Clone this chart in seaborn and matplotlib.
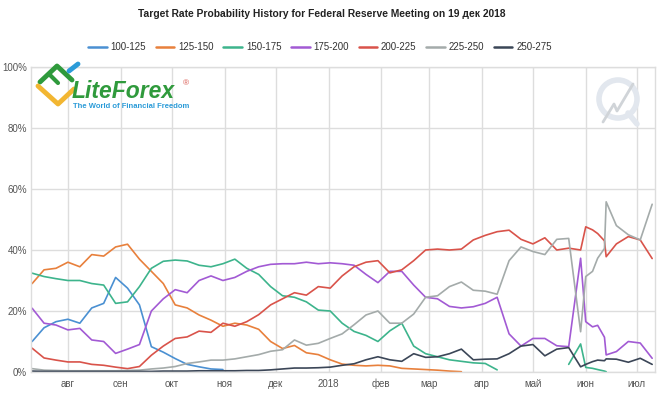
import numpy as np
import pandas as pd
import matplotlib
matplotlib.use("Agg")
import matplotlib.pyplot as plt
from matplotlib.lines import Line2D
from matplotlib.patches import Ellipse
import seaborn as sns

nan = np.nan

# observation dates (weekly, plus a few extra around the late-May / June swings)
dates = [
    "2017-07-11", "2017-07-18", "2017-07-25", "2017-08-01", "2017-08-08", "2017-08-15",
    "2017-08-22", "2017-08-29", "2017-09-05", "2017-09-12", "2017-09-19", "2017-09-26",
    "2017-10-03", "2017-10-10", "2017-10-17", "2017-10-24", "2017-10-31", "2017-11-07",
    "2017-11-14", "2017-11-21", "2017-11-28", "2017-12-05", "2017-12-12", "2017-12-19",
    "2017-12-26", "2018-01-02", "2018-01-09", "2018-01-16", "2018-01-23", "2018-01-30",
    "2018-02-06", "2018-02-13", "2018-02-20", "2018-02-27", "2018-03-06", "2018-03-13",
    "2018-03-20", "2018-03-27", "2018-04-03", "2018-04-10", "2018-04-17", "2018-04-24",
    "2018-05-01", "2018-05-08", "2018-05-15", "2018-05-22", "2018-05-29", "2018-06-01",
    "2018-06-05", "2018-06-08", "2018-06-12", "2018-06-13", "2018-06-19", "2018-06-26",
    "2018-07-03", "2018-07-10",
]

ranges = ["100-125", "125-150", "150-175", "175-200", "200-225", "225-250", "250-275"]
colors = ["#4a90d2", "#e8803c", "#3db48c", "#a25ad4", "#d9534a", "#a4abaa", "#3b4657"]

p_100_125 = [10, 14.5, 16.5, 17.3, 16, 21, 22.5, 31, 27.5, 22, 8.3, 6.5, 4.4, 2.5, 1.7, 1, 0.8] + [nan] * 39

p_125_150 = [29, 33.5, 34, 36, 34.5, 38.5, 38, 41, 41.9, 37, 33, 29, 22, 21, 18.7, 17, 15, 16,
             15.4, 14, 10, 7.7, 8.7, 6.3, 5.7, 4, 2.6, 2.2, 2, 2.2, 2, 1.2, 1, 0.8, 0.6, 0.3,
             0.1] + [nan] * 19

p_150_175 = [32.4, 31.3, 30.6, 30, 30, 29, 28.5, 22.5, 23, 28, 34, 36.3, 36.7, 36.4, 35, 34.5,
             35.5, 37, 34, 32, 28, 25, 24.5, 23, 20.3, 20, 16, 13.3, 12, 10, 13.5, 16, 8.5, 6,
             5, 4, 3.5, 3, 2.8, 0.7] + [nan] * 5 + [2.5, 9.2, 1.5, 1.2, 0.8, 0.3, 0.1] + [nan] * 4

p_175_200 = [20.9, 16, 15.4, 13.8, 14.3, 10.5, 10, 6.1, 7.5, 9, 20, 24, 27, 26, 30, 31.5, 30,
             31, 33, 34.5, 35.3, 35.5, 35.5, 36, 35.5, 35.8, 35.5, 35, 32, 29.3, 33, 33, 28.5,
             24.5, 24, 21.5, 21, 21.4, 22.5, 24.5, 12.5, 8.5, 11, 11, 8.6, 8.3, 37.3, 16.5,
             14.8, 15.3, 11.4, 5.6, 6.7, 10, 9.5, 4.5]

p_200_225 = [7.8, 4.6, 3.9, 3.3, 3.3, 2.5, 2.2, 1.6, 1.1, 1.8, 5.5, 8.5, 11, 11.5, 13.4, 13, 16,
             15, 16.5, 18.8, 22, 24, 26, 25.2, 28, 27.5, 31.5, 34.5, 36, 36.5, 32.5, 33.5, 36.5,
             40, 40.3, 40, 40.3, 43.3, 44.8, 46, 46.5, 43.5, 42, 44, 40, 40.6, 40, 47.6, 46.6,
             45.4, 43, 37.8, 42, 44.4, 43.3, 37.2]

p_225_250 = [1.1, 0.6, 0.5, 0.4, 0.4, 0.4, 0.4, 0.4, 0.5, 0.6, 1, 1.3, 1.8, 2.8, 3.3, 3.9, 3.9,
             4.3, 5, 5.7, 6.8, 7.3, 10.5, 8.8, 9.4, 11, 12.5, 15.5, 18.7, 20, 16, 16, 19, 24.5,
             25, 28, 29.5, 26.8, 26.5, 25.5, 36.5, 41, 39.5, 38.5, 43.5, 43.8, 13.2, 31.3, 33,
             37.3, 40.5, 55.8, 48, 45, 43.3, 55]

p_250_275 = [0.3, 0.2, 0.2, 0.2, 0.2, 0.2, 0.2, 0.2, 0.2, 0.2, 0.2, 0.3, 0.3, 0.3, 0.4, 0.4, 0.4,
             0.4, 0.5, 0.5, 0.7, 1, 1.3, 1.3, 1.4, 1.6, 2.2, 2.7, 4, 5, 4, 3.5, 6, 4.8, 5, 6,
             7.5, 4, 4.2, 4.3, 6, 8.5, 9, 5.3, 7.5, 8, 1.7, 2.5, 3.4, 3.9, 3.7, 4.3, 4.2, 3.2,
             4.5, 2.5]

month_ticks = ["2017-08-01", "2017-09-01", "2017-10-01", "2017-11-01", "2017-12-01", "2018-01-01",
               "2018-02-01", "2018-03-01", "2018-04-01", "2018-05-01", "2018-06-01", "2018-07-01"]
month_labels = ["авг", "сен", "окт", "ноя", "дек", "2018", "фев", "мар", "апр", "май", "июн", "июл"]

series = dict(zip(ranges, [p_100_125, p_125_150, p_150_175, p_175_200,
                           p_200_225, p_225_250, p_250_275]))

# long format, with a segment id so gaps in a series are not bridged
rows = []
for name, vals in series.items():
    seg = 0
    gap = True
    for d, v in zip(dates, vals):
        if np.isnan(v):
            gap = True
            continue
        if gap:
            seg += 1
        gap = False
        rows.append((pd.Timestamp(d), v, name, f"{name}-{seg}"))
df = pd.DataFrame(rows, columns=["date", "prob", "range", "seg"])

sns.set_theme(style="whitegrid")
plt.rcParams["font.family"] = ["Liberation Sans Narrow", "Liberation Sans", "DejaVu Sans"]

W, H = 670, 399
fig = plt.figure(figsize=(W / 100, H / 100), dpi=100)
ax = fig.add_axes([31 / W, 27 / H, 624 / W, 305 / H])

sns.lineplot(data=df, x="date", y="prob", hue="range", hue_order=ranges,
             palette=dict(zip(ranges, colors)), units="seg", estimator=None,
             linewidth=1.2, legend=False, ax=ax)

ax.set_xlim(pd.Timestamp("2017-07-10 08:00"), pd.Timestamp("2018-07-11 16:00"))
ax.set_ylim(0, 100)
ax.set_yticks(range(0, 101, 20))
ax.set_yticklabels([f"{v}%" for v in range(0, 101, 20)])
ax.set_xticks(pd.to_datetime(month_ticks))
ax.set_xticklabels(month_labels)
ax.set_xlabel("")
ax.set_ylabel("")
ax.tick_params(axis="both", labelsize=7, labelcolor="#555555", length=0)
ax.tick_params(axis="x", pad=5)
ax.tick_params(axis="y", pad=3)
ax.grid(True, color="#dddddd", linewidth=1)
for s in ax.spines.values():
    s.set_color("#dddddd")
    s.set_linewidth(1)

# title and legend
fig.text(322 / W, 1 - 14 / H, "Target Rate Probability History for Federal Reserve Meeting on 19 дек 2018",
         ha="center", va="center", fontsize=7.4, fontweight="bold", color="#222222")
handles = [Line2D([0], [0], color=c, lw=1.8) for c in colors]
fig.legend(handles, ranges, loc="center", bbox_to_anchor=(320 / W, 1 - 47 / H), ncol=7,
           frameon=False, fontsize=7, handlelength=1.9, handletextpad=0.4,
           columnspacing=1.0, labelcolor="#333333")


def px(x, y):
    return x / W, 1 - y / H


# LiteForex logo (drawn roughly)
def logo_line(pts, color, lw=3.5):
    xs, ys = zip(*[px(*p) for p in pts])
    fig.add_artist(Line2D(xs, ys, color=color, lw=lw, solid_capstyle="round",
                          transform=fig.transFigure))


logo_line([(40, 82), (57, 66), (72, 80)], "#2f9a3c")
logo_line([(50, 75), (58, 83)], "#2f9a3c", lw=3)
logo_line([(38, 86), (58, 104), (74, 89)], "#f2b632")
logo_line([(69, 71), (78, 64)], "#2b9bd8")
fig.text(*px(72, 92), "LiteForex", fontsize=16.5, fontweight="bold", fontstyle="italic",
         color="#2f9a3c", va="center", ha="left", family=["Liberation Sans", "DejaVu Sans"])
fig.text(*px(183, 84), "®", fontsize=6, color="#d9534a", va="center", ha="left")
fig.text(*px(73, 107), "The World of Financial Freedom", fontsize=5.5, fontweight="bold",
         color="#2b9bd8", va="center", ha="left", family=["Liberation Sans", "DejaVu Sans"])

# faint watermark, top right
fig.add_artist(Ellipse(px(618, 99), 38 / W, 38 / H, fill=False, edgecolor="#e2e7ee", lw=4,
                       transform=fig.transFigure))
logo_line([(628, 113), (637, 124)], "#e2e7ee", lw=4)
logo_line([(603, 122), (614, 104), (617, 111), (633, 84)], "#d0d4d8", lw=2)

fig.savefig("out.png", dpi=100)
